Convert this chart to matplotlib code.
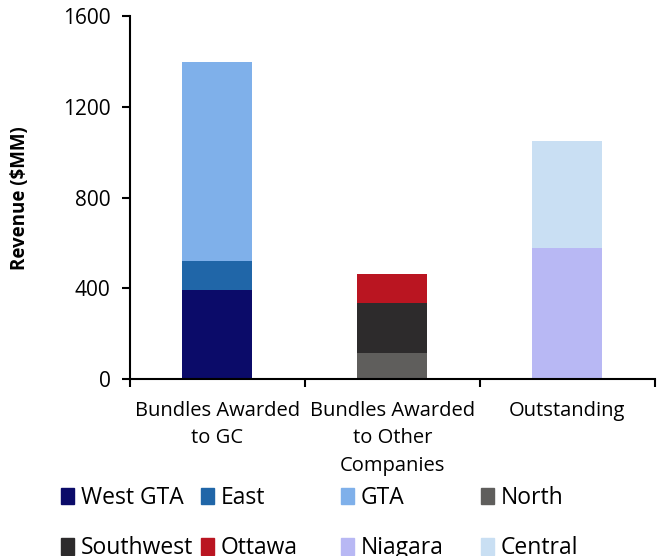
import matplotlib.pyplot as plt
from matplotlib.patches import Patch

plt.rcParams['font.family'] = ['Open Sans', 'DejaVu Sans']

categories = ['Bundles Awarded\nto GC', 'Bundles Awarded\nto Other\nCompanies', 'Outstanding']
# (label, category index, value, colour) stacked bottom to top
segments = [
    ('West GTA', 0, 395, '#0b0b69'),
    ('East', 0, 127, '#2066a8'),
    ('GTA', 0, 878, '#7fb0ea'),
    ('North', 1, 116, '#5f5e5c'),
    ('Southwest', 1, 220, '#2d2b2c'),
    ('Ottawa', 1, 128, '#ba1521'),
    ('Niagara', 2, 577, '#b8b8f4'),
    ('Central', 2, 471, '#c9dff3'),
]
legend_cols = [['West GTA', 'Southwest'], ['East', 'Ottawa'],
               ['GTA', 'Niagara'], ['North', 'Central']]

fig = plt.figure(figsize=(6.6, 5.56), dpi=100)
ax = fig.add_axes([0.197, 0.318, 0.795, 0.653])

bottoms = [0] * len(categories)
colours = {}
for label, idx, val, col in segments:
    ax.bar(idx, val, width=0.4, bottom=bottoms[idx], color=col, label=label)
    bottoms[idx] += val
    colours[label] = col

ax.set_xlim(-0.5, 2.5)
ax.set_ylim(0, 1600)
ax.set_yticks([0, 400, 800, 1200, 1600])
ax.set_xticks([-0.5, 0.5, 1.5, 2.5])
ax.set_xticklabels([])
ax.tick_params(axis='both', direction='out', length=6, width=1.5, labelsize=15)
ax.tick_params(axis='y', pad=8)
for i, cat in enumerate(categories):
    ax.text(i, -0.06, cat, transform=ax.get_xaxis_transform(), ha='center', va='top',
            fontsize=14.5, linespacing=1.5)

for s in ['top', 'right']:
    ax.spines[s].set_visible(False)
for s in ['left', 'bottom']:
    ax.spines[s].set_linewidth(1.5)

ax.set_ylabel('Revenue ($MM)', fontsize=13.5, fontweight='bold')
ax.yaxis.set_label_coords(-0.19, 0.5)

xs = [0.093, 0.305, 0.517, 0.729]
for x, names in zip(xs, legend_cols):
    handles = [Patch(color=colours[n], label=n) for n in names]
    fig.legend(handles=handles, loc='upper left', bbox_to_anchor=(x, 0.126),
               frameon=False, fontsize=16.5, handlelength=0.55, handleheight=0.75,
               handletextpad=0.3, labelspacing=1.15, borderpad=0, borderaxespad=0)

fig.savefig('out.png', dpi=100)
